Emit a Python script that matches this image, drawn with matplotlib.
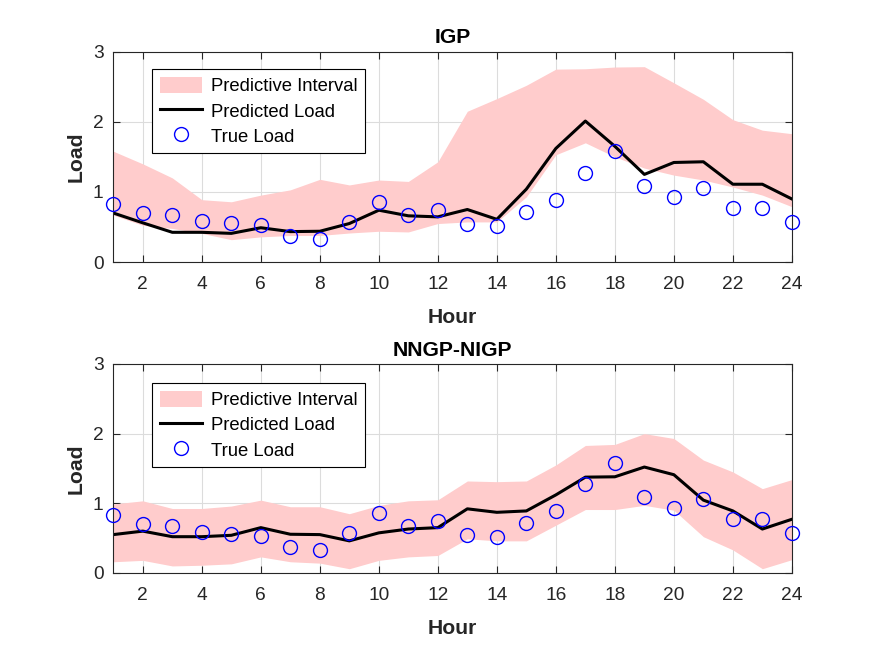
import matplotlib
matplotlib.use("Agg")
import matplotlib.pyplot as plt
import numpy as np

hours = list(range(1, 25))

true_load = [0.83, 0.70, 0.67, 0.59, 0.56, 0.525, 0.37, 0.325, 0.57, 0.86, 0.67, 0.74,
             0.54, 0.52, 0.72, 0.89, 1.27, 1.58, 1.09, 0.93, 1.06, 0.77, 0.77, 0.57]

# IGP
igp_pred = [0.70, 0.56, 0.425, 0.425, 0.41, 0.49, 0.435, 0.44, 0.55, 0.74, 0.66, 0.645,
            0.75, 0.61, 1.04, 1.62, 2.01, 1.65, 1.25, 1.42, 1.43, 1.11, 1.11, 0.90]
igp_upper = [1.58, 1.40, 1.20, 0.89, 0.86, 0.955, 1.03, 1.18, 1.10, 1.17, 1.15, 1.43,
             2.15, 2.33, 2.52, 2.75, 2.755, 2.78, 2.785, 2.555, 2.32, 2.03, 1.88, 1.83]
igp_lower = [0.67, 0.525, 0.48, 0.41, 0.32, 0.36, 0.38, 0.38, 0.415, 0.44, 0.43, 0.55,
             0.573, 0.573, 0.93, 1.53, 1.70, 1.50, 1.34, 1.24, 1.17, 1.07, 0.955, 0.79]

# NNGP-NIGP
nn_pred = [0.55, 0.60, 0.52, 0.52, 0.54, 0.65, 0.555, 0.55, 0.46, 0.575, 0.63, 0.65,
           0.92, 0.87, 0.89, 1.12, 1.375, 1.38, 1.52, 1.41, 1.045, 0.89, 0.63, 0.77]
nn_upper = [0.99, 1.035, 0.925, 0.925, 0.96, 1.045, 0.95, 0.95, 0.85, 0.97, 1.035, 1.05,
            1.32, 1.31, 1.32, 1.55, 1.83, 1.845, 2.00, 1.93, 1.62, 1.45, 1.21, 1.34]
nn_lower = [0.16, 0.18, 0.10, 0.11, 0.13, 0.23, 0.16, 0.14, 0.06, 0.18, 0.23, 0.25,
            0.49, 0.46, 0.46, 0.685, 0.91, 0.91, 0.97, 0.90, 0.52, 0.33, 0.06, 0.19]

titles = ["IGP", "NNGP-NIGP"]

plt.rcParams['font.family'] = ['Liberation Sans', 'DejaVu Sans']

fig = plt.figure(figsize=(8.75, 6.57), dpi=100)
axes = [fig.add_axes([0.1295, 0.601, 0.7755, 0.3205]),
        fig.add_axes([0.1295, 0.128, 0.7755, 0.318])]
legend_tops = [0.915, 0.907]

for ax, title, pred, up, lo, ltop in zip(axes, titles, [igp_pred, nn_pred],
                                         [igp_upper, nn_upper], [igp_lower, nn_lower],
                                         legend_tops):
    ax.fill_between(hours, lo, up, color='#ffcccc', linewidth=0, label='Predictive Interval')
    ax.plot(hours, pred, '-', color='black', linewidth=2.2, label='Predicted Load')
    ax.plot(hours, true_load, 'o', markerfacecolor='none', markeredgecolor='blue',
            markersize=10, markeredgewidth=1.0, label='True Load', clip_on=False, zorder=5)
    ax.set_xlim(1, 24)
    ax.set_ylim(0, 3)
    ax.set_xticks(range(2, 25, 2))
    ax.set_yticks([0, 1, 2, 3])
    ax.grid(True, color='#dcdcdc', linewidth=0.8)
    ax.set_axisbelow(True)
    ax.tick_params(direction='in', top=True, right=True, labelsize=13.8,
                   colors='#262626', length=5, width=0.8)
    ax.tick_params(axis='x', pad=10)
    ax.tick_params(axis='y', pad=7)
    for s in ax.spines.values():
        s.set_color('#262626')
        s.set_linewidth(0.8)
    ax.set_xlabel('Hour', fontsize=15.2, fontweight='bold', color='#262626', labelpad=11)
    ax.set_ylabel('Load', fontsize=15.2, fontweight='bold', color='#262626', labelpad=5.5)
    ax.set_title(title, fontsize=15.2, fontweight='bold', pad=6)
    leg = ax.legend(loc='upper left', bbox_to_anchor=(0.0575, ltop), borderaxespad=0,
                    fontsize=13.3, fancybox=False, framealpha=1, edgecolor='black',
                    handlelength=2.3, handleheight=1.0, labelspacing=0.35, borderpad=0.4,
                    handletextpad=0.5)
    leg.get_frame().set_linewidth(0.8)

fig.savefig('out.png', dpi=100)
